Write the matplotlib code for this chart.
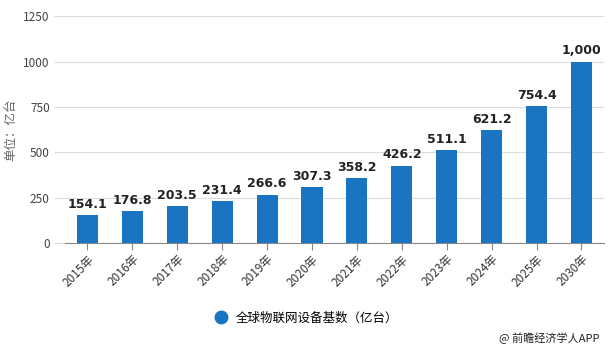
import matplotlib.pyplot as plt
from matplotlib.lines import Line2D

plt.rcParams['font.family'] = ['Noto Sans CJK SC', 'DejaVu Sans']

years = ['2015年', '2016年', '2017年', '2018年', '2019年', '2020年',
         '2021年', '2022年', '2023年', '2024年', '2025年', '2030年']
devices = [154.1, 176.8, 203.5, 231.4, 266.6, 307.3,
           358.2, 426.2, 511.1, 621.2, 754.4, 1000]
bar_labels = ['154.1', '176.8', '203.5', '231.4', '266.6', '307.3',
              '358.2', '426.2', '511.1', '621.2', '754.4', '1,000']
yticks = [0, 250, 500, 750, 1000, 1250]

blue = '#1a74c2'
fig = plt.figure(figsize=(6.1, 3.51), dpi=100)
ax = fig.add_axes([0.1066, 0.3077, 0.8834, 0.6463])

x = range(len(years))
bars = ax.bar(x, devices, width=0.47, color=blue, zorder=3)
for b, lab in zip(bars, bar_labels):
    ax.text(b.get_x() + b.get_width() / 2, b.get_height() + 24, lab,
            ha='center', va='bottom', fontsize=9, color='#222222',
            fontweight='bold', family='DejaVu Sans')

ax.set_xlim(-0.5, len(years) - 0.5)
ax.set_ylim(0, 1250)
ax.set_yticks(yticks)
ax.set_yticklabels([str(v) for v in yticks], fontsize=8.5, color='#444444')
ax.set_xticks(list(x))
ax.set_xticklabels(years, rotation=45, ha='right', rotation_mode='anchor',
                   fontsize=8.5, color='#333333')
ax.tick_params(axis='y', length=8, color='#dddddd', pad=3)
ax.tick_params(axis='x', length=5, color='#888888', pad=2)
ax.grid(axis='y', color='#dddddd', linewidth=0.8, zorder=0)
for s in ['top', 'right', 'left']:
    ax.spines[s].set_visible(False)
ax.spines['bottom'].set_color('#888888')

fig.text(0.018, 0.63, '单位：亿台', rotation=90, ha='center', va='center',
         fontsize=9, color='#666666')

handle = Line2D([], [], marker='o', linestyle='none', color=blue, markersize=9)
fig.legend([handle], ['全球物联网设备基数（亿台）'], loc='center',
           bbox_to_anchor=(0.497, 0.094), frameon=False, fontsize=9,
           handletextpad=0.2)
fig.text(0.982, 0.035, '@ 前瞻经济学人APP', ha='right', va='center',
         fontsize=8, color='#222222')

fig.savefig('out.png', dpi=100)
